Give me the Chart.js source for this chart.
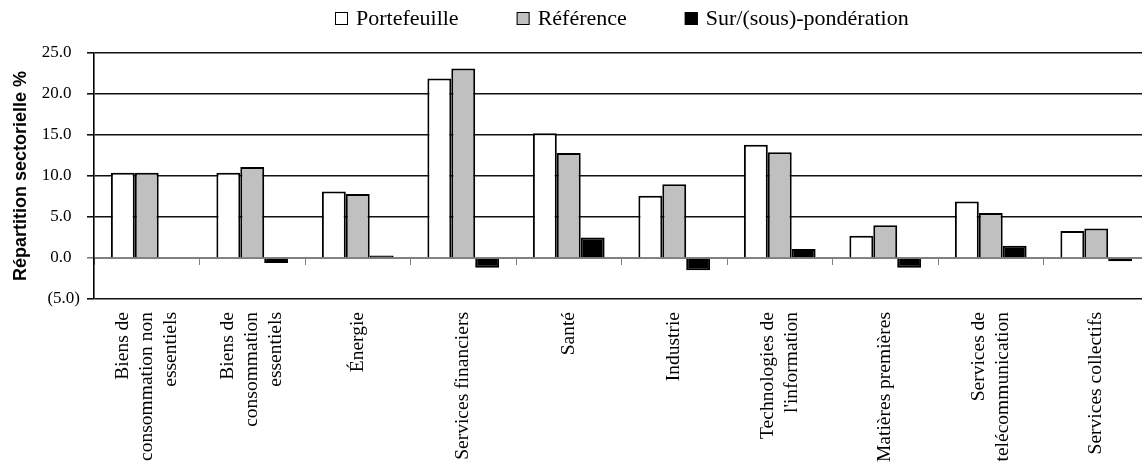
<!DOCTYPE html>
<html>
<head>
<meta charset="utf-8">
<script src="https://cdn.jsdelivr.net/npm/chart.js@4.4.1/dist/chart.umd.min.js"></script>
<style>
  html,body{margin:0;padding:0;background:#fff;overflow:hidden;}
  #wrap{width:1152px;height:464px;}
</style>
</head>
<body>
<div id="wrap"><canvas id="sector-chart" width="1152" height="464"></canvas></div>
<script>
// secteurs (libellés sur plusieurs lignes)
const sectors=[
    ['Biens de','consommation non','essentiels'],
    ['Biens de','consommation','essentiels'],
    ['Énergie'],
    ['Services financiers'],
    ['Santé'],
    ['Industrie'],
    ['Technologies de',"l'information"],
    ['Matières premières'],
    ['Services de','telécommunication'],
    ['Services collectifs']
];
const portefeuille=[10.4,10.4,8.1,21.9,15.2,7.6,13.8,2.7,6.9,3.3];
const reference=[10.4,11.1,7.8,23.1,12.8,9.0,12.9,4.0,5.5,3.6];
const ecart=[0.0,-0.6,0.3,-1.2,2.5,-1.5,1.1,-1.2,1.5,-0.4];
const yTicks=[-5,0,5,10,15,20,25];

const serif='"Liberation Serif","Times New Roman",serif';

const fmtTick=(v)=>{
    if(v<0) return '('+Math.abs(v).toFixed(1)+')';
    return v.toFixed(1)+'  ';
}

// legende dessinée au dessus du graphique
const legendPlugin={
    id:'topLegend',
    afterDraw(chart){
        const ctx=chart.ctx;
        const area=chart.chartArea;
        ctx.save();
        ctx.font='22px '+serif;
        const box=13, gapText=8, gapItem=58;
        const items=chart.data.datasets.map((ds)=>({
            text:ds.label,
            color:ds.backgroundColor,
            w:box+gapText+ctx.measureText(ds.label).width
        }));
        let total=items.reduce((s,it)=>s+it.w,0)+gapItem*(items.length-1);
        let x=Math.round((area.left+area.right)/2-total/2);
        const y=18;
        items.forEach((it)=>{
            ctx.fillStyle=it.color;
            ctx.fillRect(x,y-6,box,box);
            ctx.strokeStyle='#000';
            ctx.lineWidth=1;
            ctx.strokeRect(x+0.5,y-6+0.5,box-1,box-1);
            ctx.fillStyle='#000';
            ctx.textAlign='left';
            ctx.textBaseline='middle';
            ctx.fillText(it.text,x+box+gapText,y+1);
            x+=it.w+gapItem;
        });
        ctx.restore();
    }
}

// libellés des catégories, verticaux et centrés
const xLabelPlugin={
    id:'xLabels',
    afterDraw(chart){
        const ctx=chart.ctx;
        const xs=chart.scales.x;
        ctx.save();
        ctx.font='19.5px '+serif;
        ctx.fillStyle='#000';
        ctx.textAlign='right';
        ctx.textBaseline='middle';
        const lh=24;
        sectors.forEach((lines,i)=>{
            const px=xs.getPixelForValue(i);
            ctx.save();
            ctx.translate(px,312);
            ctx.rotate(-Math.PI/2);
            lines.forEach((line,j)=>{
                ctx.fillText(line,0,(j-(lines.length-1)/2)*lh);
            });
            ctx.restore();
        });
        ctx.restore();
    }
}

const ctx=document.getElementById('sector-chart').getContext('2d');
const sectorChart=new Chart(ctx,{
    type:'bar',
    data:{
        labels:sectors,
        datasets:[
            {label:'Portefeuille',data:portefeuille,backgroundColor:'#ffffff',borderColor:'#000',borderWidth:2},
            {label:'Référence',data:reference,backgroundColor:'#c0c0c0',borderColor:'#000',borderWidth:2},
            {label:'Sur/(sous)-pondération',data:ecart,backgroundColor:'#000000',borderColor:'#000',borderWidth:2}
        ]
    },
    options:{
        responsive:false,
        animation:false,
        layout:{padding:{top:53,bottom:165,left:0,right:3}},
        datasets:{bar:{categoryPercentage:0.68,barPercentage:1.0}},
        plugins:{legend:{display:false},tooltip:{enabled:false}},
        scales:{
            x:{
                position:{y:0},
                ticks:{display:false},
                grid:{offset:true,drawOnChartArea:false,drawTicks:true,tickLength:6,color:'#808080',lineWidth:1},
                border:{display:true,color:'#808080',width:1}
            },
            y:{
                min:-5,
                max:25,
                afterBuildTicks:(scale)=>{scale.ticks=yTicks.map((v)=>({value:v}));},
                afterFit:(scale)=>{scale.width=94;},
                ticks:{
                    callback:(v)=>fmtTick(v),
                    color:'#000',
                    font:{family:serif,size:17},
                    padding:7
                },
                grid:{
                    color:(c)=>c.tick&&c.tick.value===0?'#808080':'#111',
                    lineWidth:1.6,
                    tickLength:7
                },
                border:{display:true,color:'#000',width:1.6},
                title:{
                    display:true,
                    text:'Répartition sectorielle %',
                    color:'#000',
                    font:{family:'"Liberation Sans",Arial,sans-serif',size:18,weight:'bold'},
                    padding:{top:10,bottom:0}
                }
            }
        }
    },
    plugins:[legendPlugin,xLabelPlugin]
});
</script>
</body>
</html>
